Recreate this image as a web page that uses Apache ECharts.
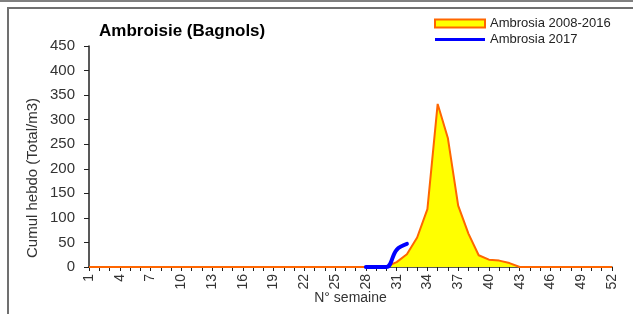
<!DOCTYPE html>
<html>
<head>
<meta charset="utf-8">
<script src="https://cdn.jsdelivr.net/npm/echarts@6/dist/echarts.min.js"></script>
<style>
  html, body { margin: 0; padding: 0; background: #fff; }
  #chart { width: 633px; height: 314px; }
</style>
</head>
<body>
<div id="chart"></div>
<script>
    // semaines 1..52
    let weeks = [];
    for (let i = 1; i <= 52; i++) weeks.push(String(i));

    // moyenne 2008-2016 (semaines 1..52)
    let ambrosiaAvg = [
        0, 0, 0, 0, 0, 0, 0, 0, 0, 0,
        0, 0, 0, 0, 0, 0, 0, 0, 0, 0,
        0, 0, 0, 0, 0, 0, 0, 0, 0, 1,
        10, 26, 60, 118, 332, 262, 125, 68, 24, 15,
        13, 8, 0, 0, 0, 0, 0, 0, 0, 0,
        0, 0
    ];

    // 2017 (semaines 28..32 seulement)
    let ambrosia2017Weeks = ['28', '29', '30', '31', '32'];
    let ambrosia2017Values = [0, 0, 0, 35, 47];

    let yTicks = {min: 0, max: 450, interval: 50};

    let data2017 = weeks.map(w => {
        let k = ambrosia2017Weeks.indexOf(w);
        return k >= 0 ? ambrosia2017Values[k] : '-';
    });

    let font = 'Arial, "Liberation Sans", sans-serif';

    let myChart = echarts.init(document.getElementById('chart'), null, {renderer: 'canvas'});
    myChart.setOption({
        animation: false,
        backgroundColor: '#fff',
        title: {
            text: 'Ambroisie (Bagnols)',
            left: 99,
            top: 23,
            padding: 0,
            textStyle: {fontFamily: font, fontSize: 17, fontWeight: 'bold', color: '#000'}
        },
        legend: {
            orient: 'vertical',
            left: 434,
            top: 17,
            padding: 0,
            itemWidth: 50,
            itemHeight: 8,
            itemGap: 3,
            textStyle: {fontFamily: font, fontSize: 13, color: '#222', padding: [0, 0, 0, 0]},
            data: [
                {name: 'Ambrosia 2008-2016', icon: 'rect',
                    itemStyle: {color: '#ffff00', borderColor: '#ff6600', borderWidth: 2}},
                {name: 'Ambrosia 2017',
                    icon: 'path://M0,0L0,0M0,2.4L50,2.4L50,5.6L0,5.6ZM50,8L50,8',
                    itemStyle: {color: '#0000ff', borderWidth: 0}}
            ]
        },
        graphic: [
            {type: 'line', shape: {x1: 0, y1: 1, x2: 633, y2: 1}, style: {stroke: '#808080', lineWidth: 2}},
            {type: 'rect', shape: {x: 8, y: 8, width: 660, height: 340}, style: {fill: null, stroke: '#707070', lineWidth: 2}},
            {type: 'text', x: 33, y: 178, rotation: Math.PI / 2,
                style: {text: 'Cumul hebdo (Total/m3)', font: '15px ' + font, fill: '#333',
                    textAlign: 'center', textVerticalAlign: 'middle'}}
        ],
        grid: {left: 89, right: 21, top: 46, bottom: 47, containLabel: false, outerBoundsMode: 'none'},
        xAxis: {
            type: 'category',
            data: weeks,
            boundaryGap: false,
            name: 'N° semaine',
            nameLocation: 'middle',
            nameGap: 24,
            nameMoveOverlap: false,
            nameTextStyle: {fontFamily: font, fontSize: 14, color: '#333', verticalAlign: 'top'},
            axisLine: {lineStyle: {color: '#222', width: 1.5}},
            axisTick: {show: true, interval: 0, length: 4, alignWithLabel: true, lineStyle: {color: '#222'}},
            axisLabel: {
                interval: 2,
                rotate: 90,
                margin: 7,
                fontFamily: font,
                fontSize: 14,
                color: '#333'
            },
            splitLine: {show: false}
        },
        yAxis: {
            type: 'value',
            min: yTicks.min,
            max: yTicks.max,
            interval: yTicks.interval,
            axisLine: {show: true, lineStyle: {color: '#222', width: 1.5}},
            axisTick: {show: true, length: 5, lineStyle: {color: '#222'}},
            axisLabel: {margin: 14, fontFamily: font, fontSize: 15, color: '#333'},
            splitLine: {show: false}
        },
        series: [
            {
                name: 'Ambrosia 2008-2016',
                type: 'line',
                data: ambrosiaAvg,
                symbol: 'none',
                lineStyle: {color: '#ff6600', width: 2},
                itemStyle: {color: '#ff6600'},
                areaStyle: {color: '#ffff00', opacity: 1},
                z: 2
            },
            {
                name: 'Ambrosia 2017',
                type: 'line',
                data: data2017,
                symbol: 'none',
                smooth: 0.4,
                lineStyle: {color: '#0000ff', width: 4, cap: 'round'},
                itemStyle: {color: '#0000ff'},
                z: 3
            }
        ]
    });
</script>
</body>
</html>
